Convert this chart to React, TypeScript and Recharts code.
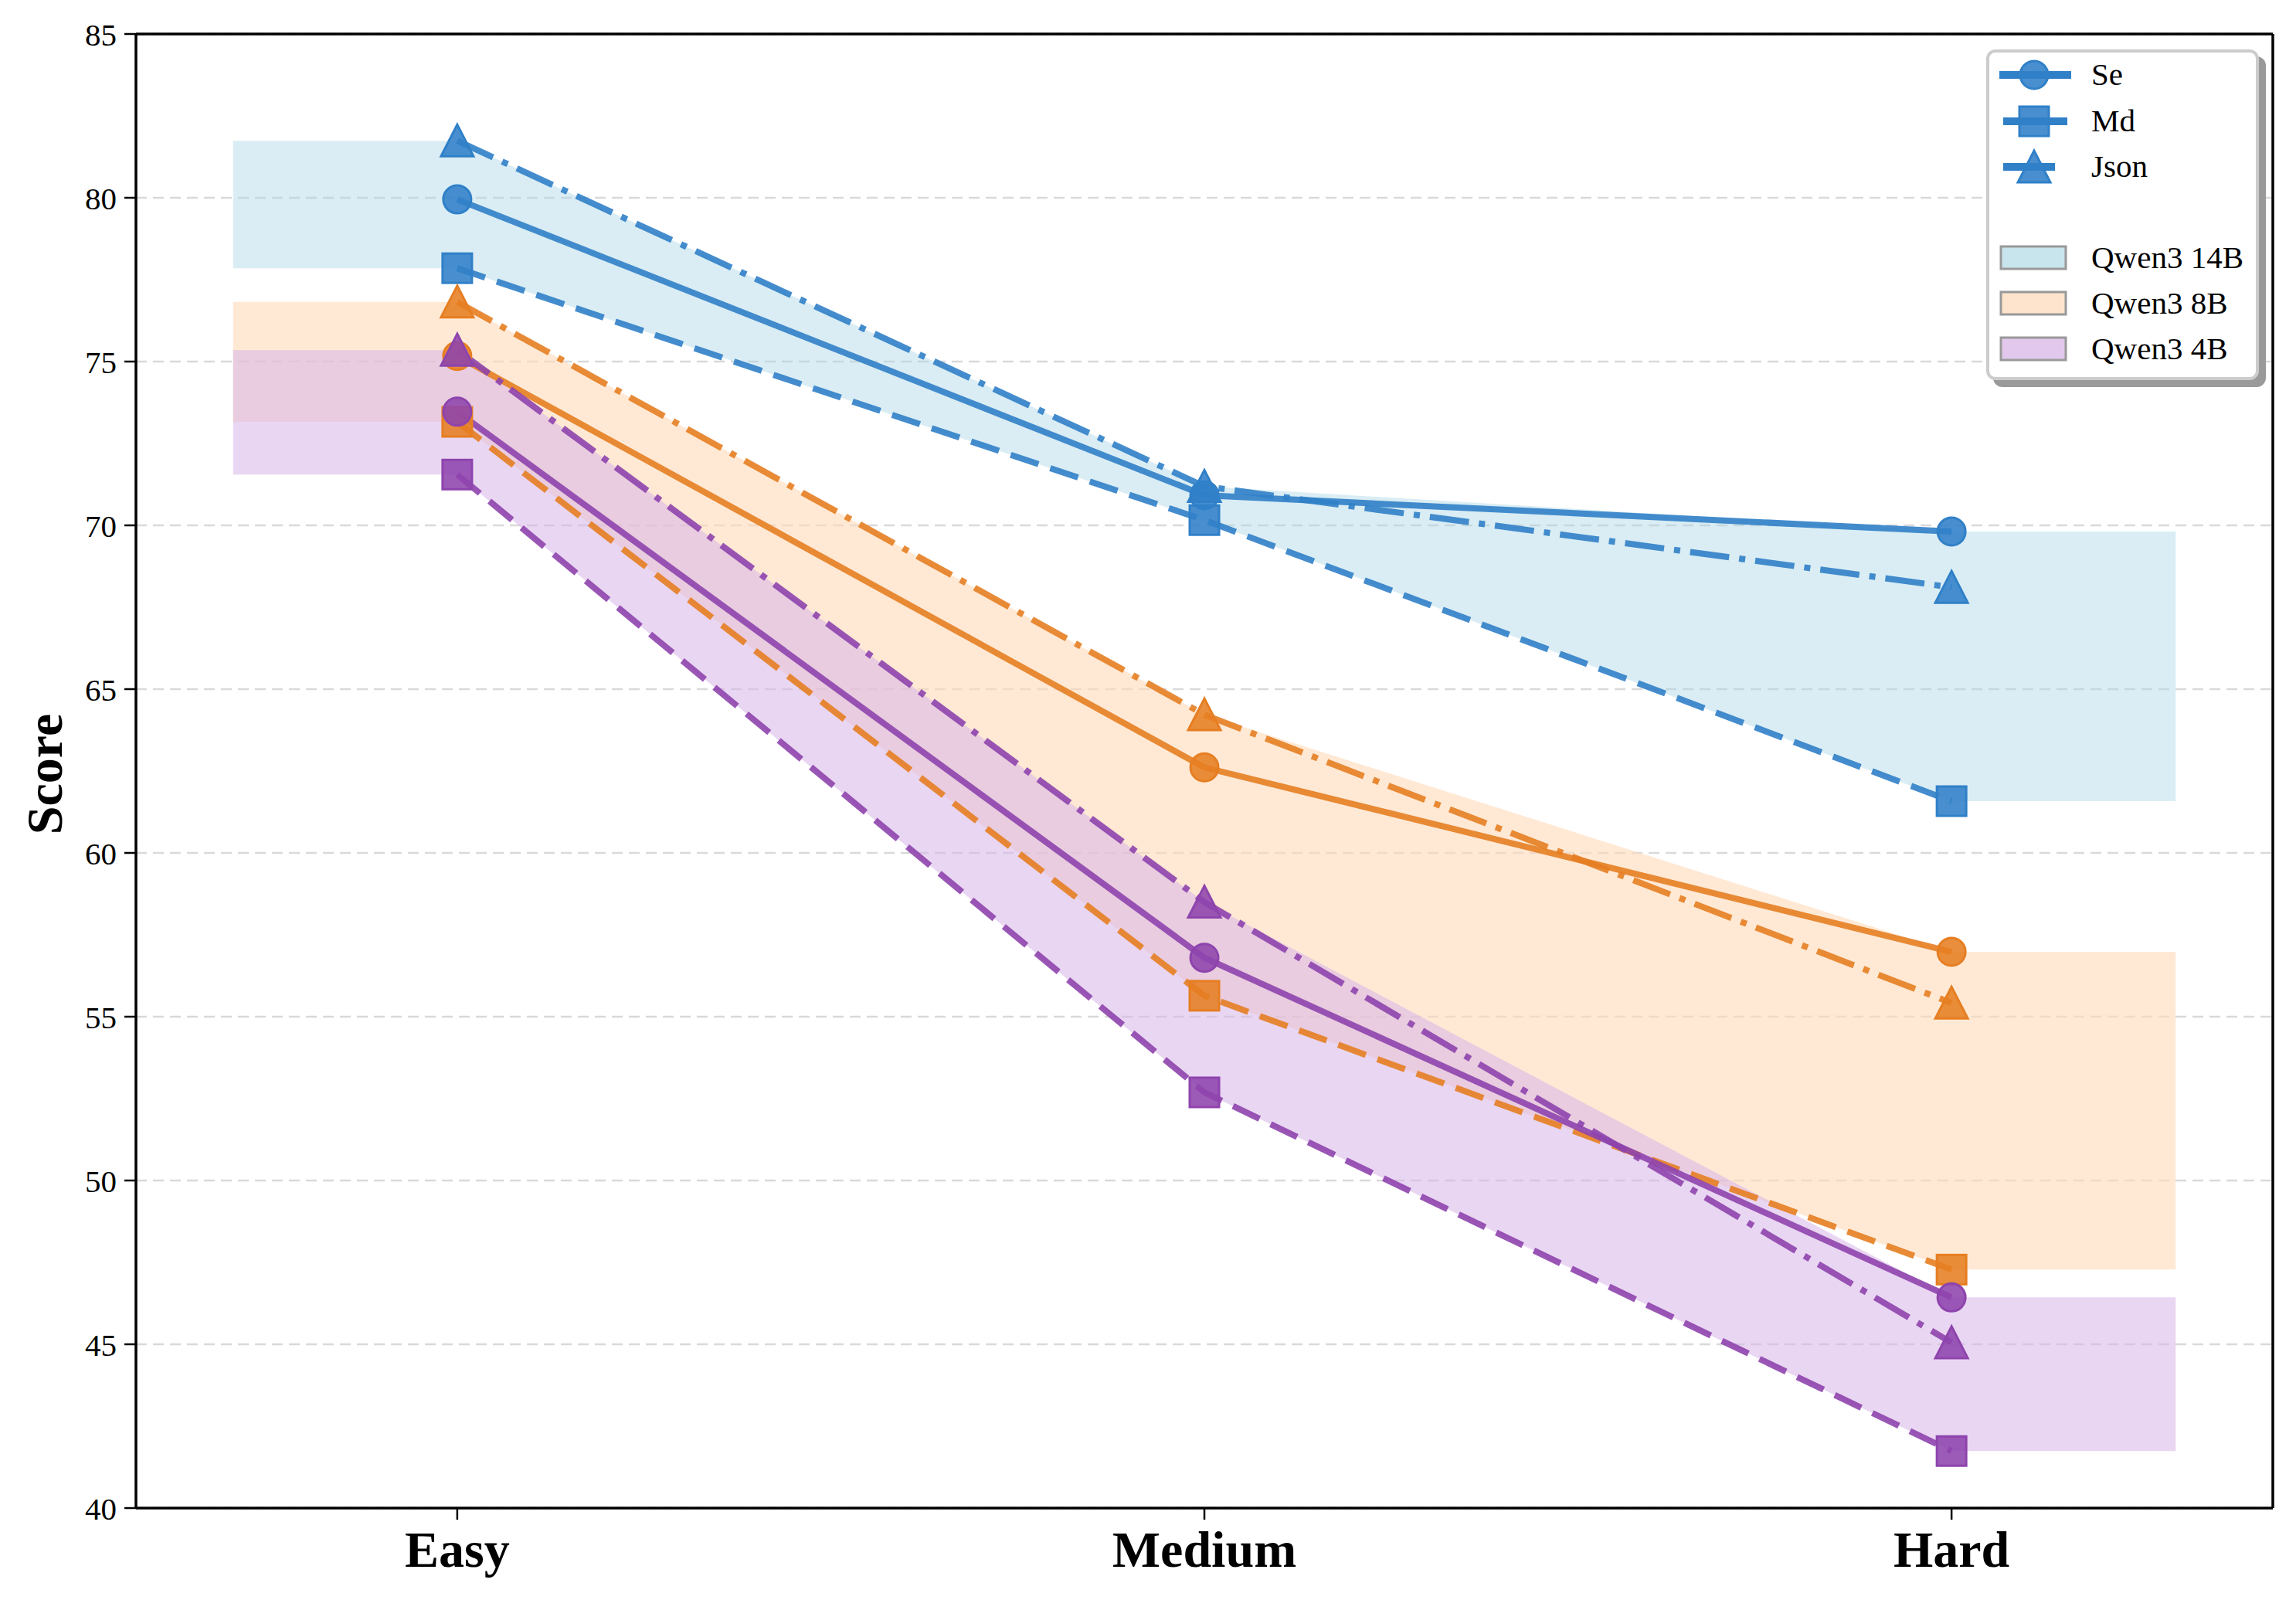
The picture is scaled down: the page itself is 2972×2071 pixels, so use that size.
import React from "react";
import {
  ComposedChart,
  Line,
  Area,
  XAxis,
  YAxis,
  CartesianGrid,
  ReferenceLine,
  Legend,
} from "recharts";

const categories = ["Easy", "Medium", "Hard"];
const bandX = [-0.3, 0, 1, 2, 2.3];
const yTicks = [40, 45, 50, 55, 60, 65, 70, 75, 80, 85];

// scores per difficulty (Easy, Medium, Hard)
const qwen14bSe = [79.95, 70.92, 69.81];
const qwen14bMd = [77.85, 70.16, 61.58];
const qwen14bJson = [81.74, 71.19, 68.11];

const qwen8bSe = [75.17, 62.61, 56.98];
const qwen8bMd = [73.16, 55.64, 47.28];
const qwen8bJson = [76.82, 64.22, 55.42];

const qwen4bSe = [73.47, 56.8, 46.43];
const qwen4bMd = [71.55, 52.69, 41.74];
const qwen4bJson = [75.35, 58.5, 45.05];

const FONT = "'Liberation Serif', 'DejaVu Serif', serif";

const models = [
  {
    key: "q14",
    name: "Qwen3 14B",
    color: "#3080C8",
    band: "#ADD8E6",
    bandOpacity: 0.45,
    patch: "#C8E4EC",
    series: { Se: qwen14bSe, Md: qwen14bMd, Json: qwen14bJson },
  },
  {
    key: "q8",
    name: "Qwen3 8B",
    color: "#E67E22",
    band: "#FFDAB9",
    bandOpacity: 0.6,
    patch: "#FEE4CC",
    series: { Se: qwen8bSe, Md: qwen8bMd, Json: qwen8bJson },
  },
  {
    key: "q4",
    name: "Qwen3 4B",
    color: "#8E44AD",
    band: "#D7B4E8",
    bandOpacity: 0.55,
    patch: "#E2C8EC",
    series: { Se: qwen4bSe, Md: qwen4bMd, Json: qwen4bJson },
  },
];

const formats = [
  { key: "Se", dash: undefined, marker: "circle", handle: [13, 106] },
  { key: "Md", dash: "38 16", marker: "square", handle: [18, 101] },
  { key: "Json", dash: "51 13 8 13", marker: "triangle", handle: [18, 85] },
];

// build one table: band range at every x, line values only at the categories
const catIndexOf = (x: number) => (x < 0 ? 0 : x > 2 ? 2 : x);
const table = bandX.map((x) => {
  const row: any = { x };
  const idx = catIndexOf(x);
  const onCat = Number.isInteger(x);
  models.forEach((m) => {
    const vals = formats.map((f) => (m.series as any)[f.key][idx]);
    row[m.key + "_band"] = [Math.min(...vals), Math.max(...vals)];
    formats.forEach((f) => {
      row[m.key + "_" + f.key] = onCat ? (m.series as any)[f.key][idx] : null;
    });
  });
  return row;
});

function Marker({ shape, cx, cy, color }: any) {
  if (cx == null || cy == null || isNaN(cy)) return <g />;
  const common = {
    fill: color,
    fillOpacity: 0.88,
    stroke: color,
    strokeWidth: 3,
  };
  if (shape === "circle") return <circle cx={cx} cy={cy} r={18} {...common} />;
  if (shape === "square")
    return <rect x={cx - 19} y={cy - 19} width={38} height={38} {...common} />;
  return (
    <polygon
      points={`${cx},${cy - 21} ${cx - 21},${cy + 20} ${cx + 21},${cy + 20}`}
      {...common}
    />
  );
}

function LegendBox() {
  const blue = models[0].color;
  const rows = [33, 93, 152];
  const patchRows = [270, 329, 388];
  return (
    <div
      style={{
        width: 353,
        height: 428,
        background: "#fff",
        border: "4px solid #cccccc",
        borderRadius: 12,
        boxShadow: "9px 9px 0 #9a9a9a",
        boxSizing: "border-box",
      }}
    >
      <svg width={345} height={420} style={{ display: "block" }}>
        {formats.map((f, i) => (
          <g key={f.key}>
            <line
              x1={f.handle[0]}
              x2={f.handle[1]}
              y1={rows[i] - 4}
              y2={rows[i] - 4}
              stroke={blue}
              strokeWidth={10}
            />
            <Marker shape={f.marker} cx={58} cy={rows[i] - 4} color={blue} />
            <text
              x={132}
              y={rows[i]}
              dominantBaseline="middle"
              fontFamily={FONT}
              fontSize={41}
            >
              {f.key}
            </text>
          </g>
        ))}
        {models.map((m, i) => (
          <g key={m.key}>
            <rect
              x={15}
              y={patchRows[i] - 19}
              width={84}
              height={29}
              fill={m.patch}
              stroke="#999"
              strokeWidth={3}
            />
            <text
              x={132}
              y={patchRows[i]}
              dominantBaseline="middle"
              fontFamily={FONT}
              fontSize={41}
            >
              {m.name}
            </text>
          </g>
        ))}
      </svg>
    </div>
  );
}

export default function App() {
  return (
    <div style={{ position: "absolute", left: 0, top: 0, width: 2972, height: 2071, background: "#fff" }}>
      <ComposedChart
        width={2972}
        height={2071}
        data={table}
        margin={{ top: 44, right: 30, bottom: 9, left: 36 }}
      >
        <CartesianGrid
          vertical={false}
          stroke="#d9d9d9"
          strokeWidth={2.5}
          strokeDasharray="14 8"
        />
        <XAxis
          type="number"
          dataKey="x"
          domain={[-0.43, 2.43]}
          allowDataOverflow
          ticks={[0, 1, 2]}
          tickFormatter={(v: number) => categories[v]}
          height={110}
          tickSize={15}
          tickMargin={14}
          axisLine={{ stroke: "#000", strokeWidth: 3.5 }}
          tickLine={{ stroke: "#000", strokeWidth: 2.5 }}
          tick={{ fill: "#000", fontFamily: FONT, fontSize: 66, fontWeight: "bold" }}
        />
        <YAxis
          type="number"
          domain={[40, 85]}
          ticks={yTicks}
          allowDataOverflow
          width={140}
          tickSize={15}
          tickMargin={10}
          axisLine={{ stroke: "#000", strokeWidth: 3.5 }}
          tickLine={{ stroke: "#000", strokeWidth: 2.5 }}
          tick={{ fill: "#000", fontFamily: FONT, fontSize: 41 }}
          label={{
            position: "insideLeft",
            content: (props: any) => {
              const vb = props.viewBox || { x: 36, y: 44, height: 1908 };
              const x = vb.x + 21;
              const y = vb.y + vb.height / 2 + 4;
              return (
                <text
                  x={x}
                  y={y}
                  transform={`rotate(-90 ${x} ${y})`}
                  textAnchor="middle"
                  dominantBaseline="central"
                  fontFamily={FONT}
                  fontSize={66}
                  fontWeight="bold"
                  fill="#000"
                >
                  Score
                </text>
              );
            },
          }}
        />
        {models.map((m) => (
          <Area
            key={m.key + "_band"}
            type="linear"
            dataKey={m.key + "_band"}
            stroke="none"
            fill={m.band}
            fillOpacity={m.bandOpacity}
            isAnimationActive={false}
            activeDot={false}
            legendType="none"
          />
        ))}
        {models.map((m) =>
          formats.map((f) => (
            <Line
              key={m.key + "_" + f.key}
              type="linear"
              dataKey={m.key + "_" + f.key}
              stroke={m.color}
              strokeOpacity={0.9}
              strokeWidth={8}
              strokeDasharray={f.dash}
              isAnimationActive={false}
              activeDot={false}
              legendType="none"
              dot={(p: any) => (
                <Marker
                  key={m.key + f.key + p.index}
                  shape={f.marker}
                  cx={p.cx}
                  cy={p.value == null ? null : p.cy}
                  color={m.color}
                />
              )}
            />
          ))
        )}
        <ReferenceLine y={85} stroke="#000" strokeWidth={3.5} ifOverflow="visible" />
        <ReferenceLine x={2.43} stroke="#000" strokeWidth={3.5} ifOverflow="visible" />
        <Legend
          layout="horizontal"
          verticalAlign="middle"
          align="center"
          content={() => <LegendBox />}
          wrapperStyle={{ position: "absolute", left: 2571, top: 64, width: 353, height: 428 }}
        />
      </ComposedChart>
    </div>
  );
}
